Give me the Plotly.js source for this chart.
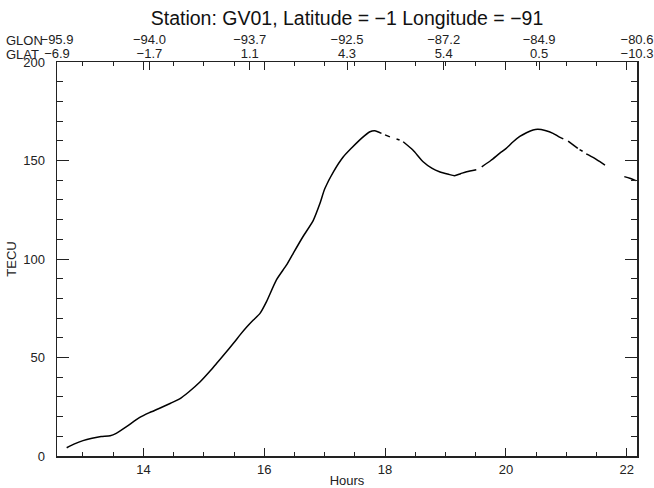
<!DOCTYPE html>
<html>
<head>
<meta charset="utf-8">
<script src="https://cdn.plot.ly/plotly-3.0.1.min.js"></script>
<style>html,body{margin:0;padding:0;background:#fff;}#chart{width:654px;height:488px;}</style>
</head>
<body>
<div id="chart"></div>
<script>
// Hours (UT) and TEC values (null = data gap)
var hours = [12.73, 12.85, 13.0, 13.15, 13.3, 13.45, 13.55, 13.72, 13.94, 14.1, 14.25, 14.45, 14.6, 14.75, 14.94,
  15.1, 15.21, 15.35, 15.49, 15.6, 15.71, 15.82, 15.93, 16.04, 16.2, 16.37, 16.48, 16.64, 16.81, 16.92,
  17.0, 17.15, 17.31, 17.45, 17.6, 17.75, 17.83, 17.94, 17.97,
  18.0, 18.08, 18.13, 18.19, 18.24, 18.27,
  18.3, 18.46, 18.63, 18.78, 18.9, 19.05, 19.15, 19.25, 19.35, 19.51, 19.55,
  19.6, 19.75, 19.9, 20.0, 20.12, 20.23, 20.34, 20.45, 20.53, 20.65, 20.78, 20.88, 20.95, 20.99,
  21.03, 21.19, 21.2, 21.22, 21.27, 21.3,
  21.33, 21.45, 21.55, 21.64, 21.8,
  21.96, 22.05, 22.15];
var tecu = [4.2, 6.0, 7.8, 9.0, 9.9, 10.3, 11.5, 14.9, 19.6, 22.0, 24.0, 26.8, 29.0, 32.5, 37.7,
  43.0, 47.0, 52.0, 57.2, 61.5, 65.5, 69.0, 72.4, 78.5, 89.3, 97.0, 102.9, 111.3, 119.5, 128.0,
  135.5, 144.5, 151.9, 156.5, 161.0, 164.6, 165.1, 163.8, null,
  163.0, 162.0, null, 160.9, 160.4, null,
  159.5, 155.3, 149.4, 146.0, 144.3, 143.0, 142.3, 143.3, 144.3, 145.3, null,
  146.8, 150.0, 153.7, 156.0, 159.5, 162.2, 164.1, 165.5, 165.8, 165.2, 163.8, 162.0, 161.0, null,
  159.8, 156.2, null, 155.5, 154.7, null,
  153.4, 151.5, 149.5, 147.7, null,
  141.8, 141.0, 139.8];

// Top axis: geographic longitude / latitude labels
var topTickHours = [12.57, 14.1, 15.76, 17.37, 18.97, 20.55, 22.17];
var glon = ['\u221295.9', '\u221294.0', '\u221293.7', '\u221292.5', '\u221287.2', '\u221284.9', '\u221280.6'];
var glat = ['\u22126.9', '\u22121.7', '1.1', '4.3', '5.4', '0.5', '\u221210.3'];

var bottomTicks = [14, 16, 18, 20, 22];
var leftTicks = [0, 50, 100, 150, 200];

var FONT = 'Liberation Sans, Arial, Helvetica, sans-serif';
var AX = '#222';
var FS = 13;

var trace = {
  x: hours, y: tecu, type: 'scatter', mode: 'lines',
  line: {color: '#000', width: 1.5, shape: 'spline', smoothing: 0.6},
  connectgaps: false, hoverinfo: 'skip', xaxis: 'x', yaxis: 'y'
};
var dummyLon = {x: [12.57], y: [null], type: 'scatter', mode: 'lines', xaxis: 'x2', yaxis: 'y', showlegend: false, hoverinfo: 'skip'};
var dummyLat = {x: [12.57], y: [null], type: 'scatter', mode: 'lines', xaxis: 'x3', yaxis: 'y', showlegend: false, hoverinfo: 'skip'};

var topCommon = {
  overlaying: 'x', side: 'top', anchor: 'y',
  range: [12.57, 22.17], tickmode: 'array', tickvals: topTickHours,
  showline: false, showgrid: false, zeroline: false,
  tickfont: {family: FONT, size: FS, color: AX}
};

var layout = {
  width: 654, height: 488,
  margin: {l: 57, r: 17, t: 62, b: 32},
  paper_bgcolor: '#fff', plot_bgcolor: '#fff',
  showlegend: false,
  font: {family: FONT, size: FS, color: AX},
  title: {text: 'Station: GV01, Latitude = \u22121 Longitude = \u221291',
    font: {family: FONT, size: 19.5, color: '#111'},
    x: 0.5, xref: 'paper', xanchor: 'center', y: 0.962, yref: 'container', yanchor: 'middle'},
  xaxis: {
    range: [12.57, 22.17], tickmode: 'array', tickvals: bottomTicks, ticktext: bottomTicks.map(String),
    ticks: 'inside', ticklen: 8, tickwidth: 1, tickcolor: AX,
    minor: {tickmode: 'linear', tick0: 12, dtick: 0.5, ticks: 'inside', ticklen: 4, tickwidth: 1, tickcolor: AX, showgrid: false},
    showline: true, linecolor: AX, linewidth: 1.5, mirror: 'ticks',
    showgrid: false, zeroline: false, ticklabelstandoff: 1,
    tickfont: {family: FONT, size: FS, color: AX},
    title: {text: 'Hours', font: {family: FONT, size: FS, color: AX}, standoff: 1}
  },
  xaxis2: Object.assign({}, topCommon, {ticktext: glon, ticks: '', ticklabelstandoff: 14}),
  xaxis3: Object.assign({}, topCommon, {ticktext: glat, ticks: 'inside', ticklen: 8, tickwidth: 1, tickcolor: AX, ticklabelstandoff: 0}),
  yaxis: {
    range: [0, 200], tickmode: 'array', tickvals: leftTicks, ticktext: leftTicks.map(String),
    ticks: 'inside', ticklen: 12, tickwidth: 1, tickcolor: AX,
    minor: {tickmode: 'linear', tick0: 0, dtick: 10, ticks: 'inside', ticklen: 6, tickwidth: 1, tickcolor: AX, showgrid: false},
    showline: true, linecolor: AX, linewidth: 1.5, mirror: 'ticks',
    showgrid: false, zeroline: false, ticklabelstandoff: 8,
    tickfont: {family: FONT, size: FS, color: AX},
    title: {text: 'TECU', font: {family: FONT, size: FS, color: AX}, standoff: 3}
  },
  annotations: [
    {text: 'GLON', xref: 'paper', yref: 'paper', x: -0.0914, y: 1.0558, xanchor: 'left', yanchor: 'middle', showarrow: false,
      font: {family: FONT, size: FS, color: AX}},
    {text: 'GLAT', xref: 'paper', yref: 'paper', x: -0.0914, y: 1.0203, xanchor: 'left', yanchor: 'middle', showarrow: false,
      font: {family: FONT, size: FS, color: AX}}
  ]
};

Plotly.newPlot('chart', [trace, dummyLon, dummyLat], layout, {staticPlot: true, displayModeBar: false});
</script>
</body>
</html>
